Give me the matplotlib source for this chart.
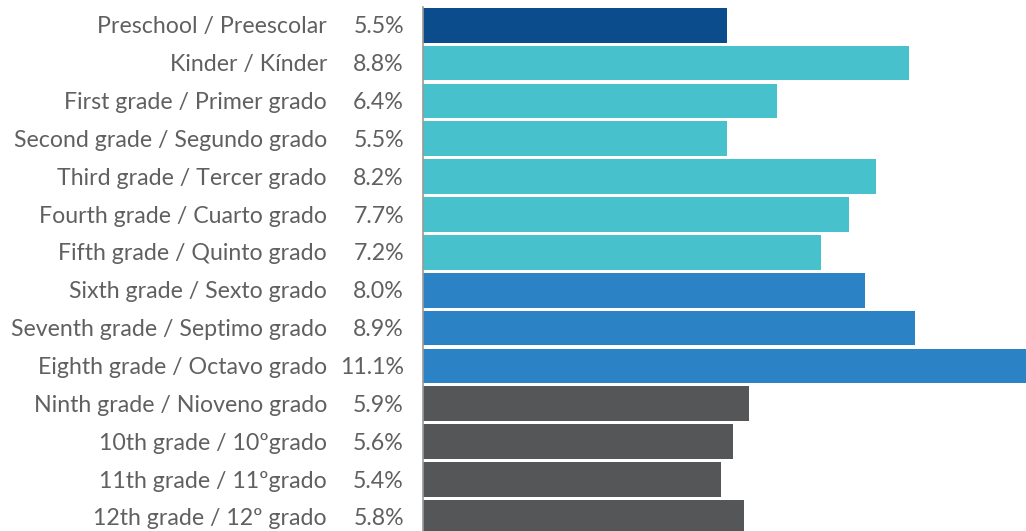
import matplotlib
matplotlib.use("Agg")
import matplotlib.pyplot as plt

categories = [
    "Preschool / Preescolar", "Kinder / Kínder", "First grade / Primer grado",
    "Second grade / Segundo grado", "Third grade / Tercer grado",
    "Fourth grade / Cuarto grado", "Fifth grade / Quinto grado",
    "Sixth grade / Sexto grado", "Seventh grade / Septimo grado",
    "Eighth grade / Octavo grado", "Ninth grade / Nioveno grado",
    "10th grade / 10ºgrado", "11th grade / 11ºgrado", "12th grade / 12º grado",
]
values = [5.5, 8.8, 6.4, 5.5, 8.2, 7.7, 7.2, 8.0, 8.9, 11.1, 5.9, 5.6, 5.4, 5.8]
value_labels = ["5.5%", "8.8%", "6.4%", "5.5%", "8.2%", "7.7%", "7.2%", "8.0%",
                "8.9%", "11.1%", "5.9%", "5.6%", "5.4%", "5.8%"]
groups = ["pre", "elem", "elem", "elem", "elem", "elem", "elem",
          "mid", "mid", "mid", "high", "high", "high", "high"]
group_colors = {"pre": "#0b4c8c", "elem": "#47c2cd", "mid": "#2b82c4", "high": "#555658"}

plt.rcParams["font.family"] = ["Lato", "DejaVu Sans"]

W, H = 1026, 531
fig = plt.figure(figsize=(W / 100, H / 100), dpi=100)
ax_left = 423 / W
ax_top = 1 - 7 / H
ax = fig.add_axes([ax_left, 0, 1 - ax_left, ax_top])

ypos = list(range(len(categories)))
ax.barh(ypos, values, height=0.917, color=[group_colors[g] for g in groups], zorder=2)

ax.set_xlim(0, 10.91)
ax.set_ylim(13.36, -0.483)
for s in ["top", "right", "bottom"]:
    ax.spines[s].set_visible(False)
ax.spines["left"].set_color("#999999")
ax.spines["left"].set_linewidth(1.2)
ax.set_xticks([])
ax.set_yticks([])

text_color = "#606060"
fs = 16.7
for y, cat, vl in zip(ypos, categories, value_labels):
    ax.annotate(cat, xy=(0, y), xycoords=("axes fraction", "data"),
                xytext=(-96, -8), textcoords="offset pixels",
                ha="right", va="baseline", fontsize=fs, color=text_color,
                annotation_clip=False)
    ax.annotate(vl, xy=(0, y), xycoords=("axes fraction", "data"),
                xytext=(-19, -8), textcoords="offset pixels",
                ha="right", va="baseline", fontsize=fs, color=text_color,
                annotation_clip=False)

fig.savefig("out.png", dpi=100)
